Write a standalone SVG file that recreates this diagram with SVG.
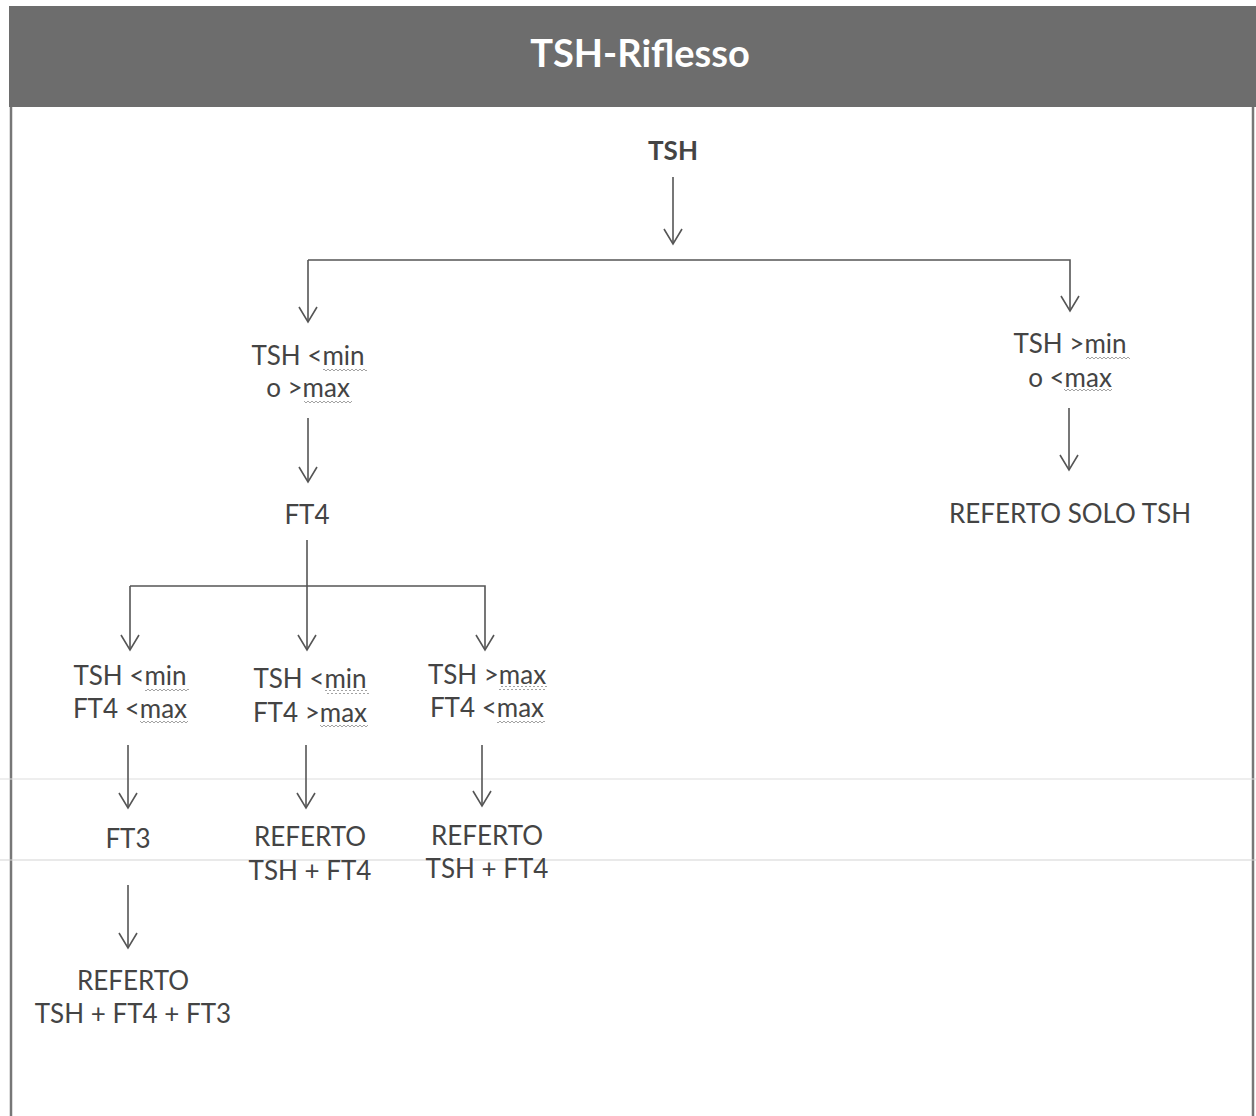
<svg xmlns="http://www.w3.org/2000/svg" width="1256" height="1116" viewBox="0 0 1256 1116">
<defs>
<marker id="arr" markerUnits="userSpaceOnUse" markerWidth="20" markerHeight="24" viewBox="-17 -12 20 24" refX="0" refY="0" orient="auto" overflow="visible">
<path d="M-15,-9 L0,0 L-15,9" fill="none" stroke="#555" stroke-width="1.6"/>
</marker>
<pattern id="wave" width="4" height="4" patternUnits="userSpaceOnUse">
<polyline points="0,1 2,3 4,1" fill="none" stroke="#999" stroke-width="0.9"/>
</pattern>
</defs>
<style>
.t{font-family:Lato,"Liberation Sans",sans-serif;font-size:26px;fill:#444;text-anchor:middle}
.b{font-weight:bold}
.c{fill:none;stroke:#555;stroke-width:1.6}
.sq{fill:url(#wave)}
</style>
<rect x="0" y="0" width="1256" height="1116" fill="#fff"/>
<g id="frame">
<rect x="9" y="6" width="1250" height="101" fill="#6d6d6d"/>
<line x1="11" y1="107" x2="11" y2="1116" stroke="#777" stroke-width="2.5"/>
<line x1="1253" y1="107" x2="1253" y2="1116" stroke="#777" stroke-width="2.5"/>
<line x1="0" y1="779" x2="1256" y2="779" stroke="#ddd" stroke-width="1"/>
<line x1="0" y1="860" x2="1256" y2="860" stroke="#d4d4d4" stroke-width="1.2"/>
</g>
<g id="title"><text x="640" y="67" class="t b" style="font-size:38px;fill:#fff">TSH-Riflesso</text></g>
<g id="connectors">
<line class="c" x1="673" y1="177" x2="673" y2="244" marker-end="url(#arr)"/>
<polyline class="c" points="308,260 1070,260 1070,311" marker-end="url(#arr)"/>
<line class="c" x1="308" y1="260" x2="308" y2="322" marker-end="url(#arr)"/>
<line class="c" x1="308" y1="418" x2="308" y2="482" marker-end="url(#arr)"/>
<line class="c" x1="1069" y1="408" x2="1069" y2="470" marker-end="url(#arr)"/>
<line class="c" x1="307" y1="540" x2="307" y2="650" marker-end="url(#arr)"/>
<polyline class="c" points="130,586 485,586 485,650" marker-end="url(#arr)"/>
<line class="c" x1="130" y1="586" x2="130" y2="650" marker-end="url(#arr)"/>
<line class="c" x1="128" y1="745" x2="128" y2="808" marker-end="url(#arr)"/>
<line class="c" x1="306" y1="745" x2="306" y2="808" marker-end="url(#arr)"/>
<line class="c" x1="482" y1="745" x2="482" y2="806" marker-end="url(#arr)"/>
<line class="c" x1="128" y1="885" x2="128" y2="948" marker-end="url(#arr)"/>
</g>
<g id="n-tsh"><text x="673" y="160" class="t b">TSH</text></g>
<g id="n-tsh-out">
<text x="308" y="365" class="t">TSH &lt;min</text>
<text x="308" y="397" class="t">o &gt;max</text>
<rect class="sq" x="323" y="367" width="44" height="4"/>
<rect class="sq" x="304" y="399" width="48" height="4"/>
</g>
<g id="n-tsh-in">
<text x="1070" y="353" class="t">TSH &gt;min</text>
<text x="1070" y="387" class="t">o &lt;max</text>
<rect class="sq" x="1086" y="355" width="44" height="4"/>
<rect class="sq" x="1064" y="389" width="48" height="4"/>
</g>
<g id="n-solo"><text x="1070" y="523" class="t">REFERTO SOLO TSH</text></g>
<g id="n-ft4"><text x="307" y="524" class="t">FT4</text></g>
<g id="n-c1">
<text x="130" y="685" class="t">TSH &lt;min</text>
<text x="130" y="718" class="t">FT4 &lt;max</text>
<rect class="sq" x="145" y="687" width="44" height="4"/>
<rect class="sq" x="140" y="720" width="48" height="4"/>
</g>
<g id="n-c2">
<text x="310" y="688" class="t">TSH &lt;min</text>
<text x="310" y="722" class="t">FT4 &gt;max</text>
<rect class="sq" x="325" y="690" width="44" height="4"/>
<rect class="sq" x="320" y="724" width="48" height="4"/>
</g>
<g id="n-c3">
<text x="487" y="684" class="t">TSH &gt;max</text>
<text x="487" y="717" class="t">FT4 &lt;max</text>
<rect class="sq" x="499" y="686" width="48" height="4"/>
<rect class="sq" x="497" y="719" width="48" height="4"/>
</g>
<g id="n-ft3"><text x="128" y="848" class="t">FT3</text></g>
<g id="n-r2"><text x="310" y="846" class="t">REFERTO</text><text x="310" y="880" class="t">TSH + FT4</text></g>
<g id="n-r3"><text x="487" y="845" class="t">REFERTO</text><text x="487" y="878" class="t">TSH + FT4</text></g>
<g id="n-r1"><text x="133" y="990" class="t">REFERTO</text><text x="133" y="1023" class="t">TSH + FT4 + FT3</text></g>
</svg>
